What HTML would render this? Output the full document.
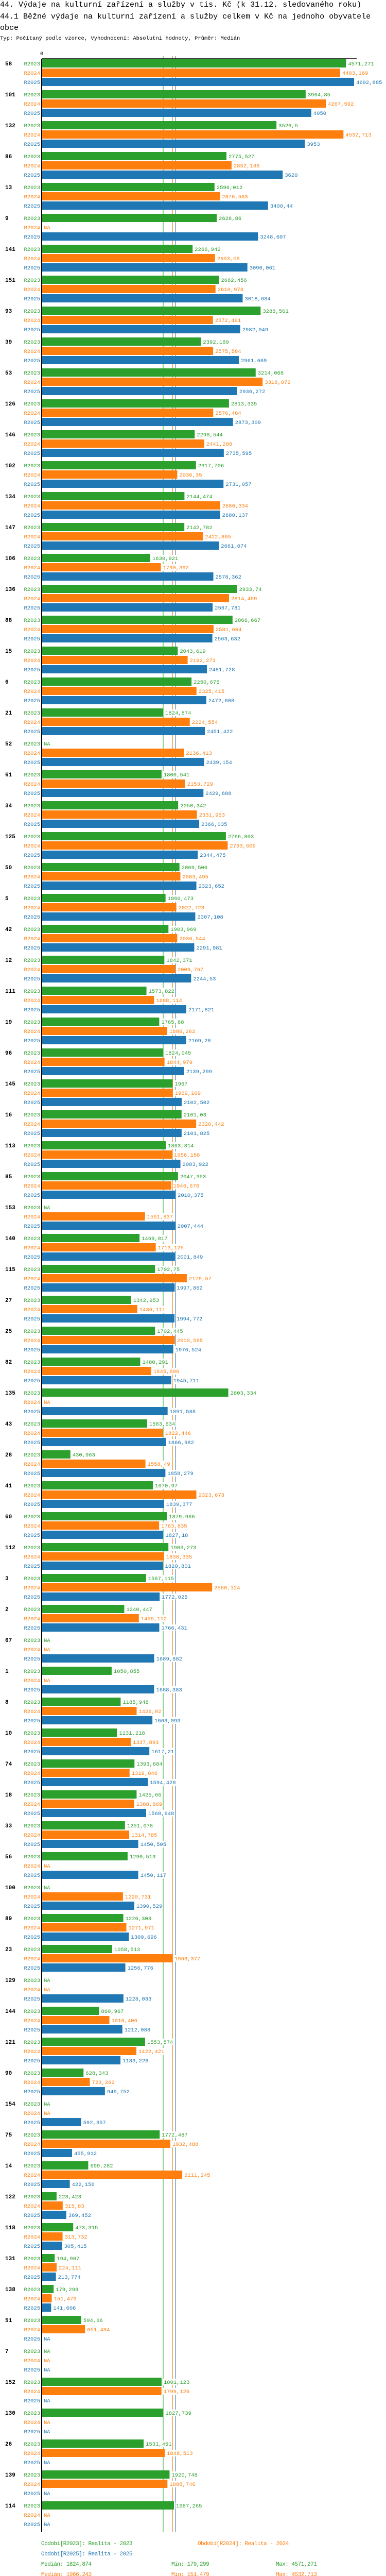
<!DOCTYPE html>
<html><head><meta charset="utf-8"><style>
html,body{margin:0;padding:0;background:#fff;width:750px;height:5034px;overflow:hidden;}
svg{display:block;font-family:"Liberation Mono",monospace;}
</style></head><body>
<svg id="chart" width="750" height="5034" viewBox="0 0 750 5034" xmlns="http://www.w3.org/2000/svg">
<text x="0" y="13" font-size="15">44. Výdaje na kulturní zařízení a služby v tis. Kč (k 31.12. sledovaného roku)</text>
<text x="0" y="36" font-size="15">44.1 Běžné výdaje na kulturní zařízení a služby celkem v Kč na jednoho obyvatele</text>
<text x="0" y="58" font-size="15">obce</text>
<text x="0" y="77" font-size="10.5">Typ: Počítaný podle vzorce, Vyhodnocení: Absolutní hodnoty, Průměr: Medián</text>
<g id="plot"></g>
</svg>
<script>
const categories = ["58","101","132","86","13","9","141","151","93","39","53","126","146","102","134","147","106","136","88","15","6","21","52","61","34","125","50","5","42","12","111","19","96","145","16","113","85","153","140","115","27","25","82","135","43","28","41","60","112","3","2","67","1","8","10","74","18","33","56","100","89","23","129","144","121","90","154","75","14","122","118","131","138","51","7","152","130","26","139","114"];
const r2023 = [4571.271,3964.85,3526.5,2775.527,2596.012,2628.86,2266.942,2662.456,3288.561,2392.189,3214.068,2813.335,2298.544,2317.706,2144.474,2142.782,1630.921,2933.74,2866.667,2043.619,2250.675,1824.874,null,1800.541,2050.342,2766.803,2069.506,1860.473,1903.969,1842.371,1573.822,1765.88,1824.045,1967,2101.03,1863.814,2047.353,null,1469.817,1702.75,1342.953,1702.445,1480.291,2803.334,1583.634,430.963,1670.97,1879.966,1903.273,1567.115,1240.447,null,1050.855,1185.948,1131.218,1393.684,1425.66,1251.078,1290.513,null,1226.303,1058.513,null,860.967,1553.574,628.343,null,1772.487,699.282,223.423,473.315,194.907,179.299,594.66,null,1801.123,1827.739,1531.451,1920.748,1987.265];
const r2024 = [4483.169,4267.592,4532.713,2852.166,2676.563,null,2603.08,2610.978,2572.491,2575.584,3318.072,2576.484,2441.288,2036.35,2680.334,2422.865,1790.392,2814.499,2581.604,2192.273,2325.415,2224.554,2136.413,2153.729,2331.953,2793.609,2083.495,2022.723,2036.544,2009.767,1688.114,1886.262,1844.979,1969.109,2320.442,1956.158,1946.676,1551.837,1713.125,2179.57,1436.111,2000.595,1645.606,null,1822.446,1558.49,2323.673,1763.835,1838.335,2560.124,1459.112,null,null,1426.02,1337.893,1319.846,1388.869,1314.785,null,1220.731,1271.971,1963.377,null,1016.406,1422.421,723.262,null,1932.488,2111.245,315.83,313.732,224.111,151.479,651.494,null,1799.126,null,1848.513,1888.746,null];
const r2025 = [4692.885,4050,3953,3620,3400.44,3248.607,3090.061,3018.684,2982.049,2961.669,2936.272,2873.309,2735.595,2731.057,2680.137,2661.074,2578.362,2567.781,2563.632,2481.728,2472.608,2451.422,2439.154,2429.688,2366.035,2344.475,2323.652,2307.108,2291.981,2244.53,2171.821,2169.28,2139.299,2102.502,2101.825,2083.922,2010.375,2007.444,2001.849,1997.862,1994.772,1976.524,1945.711,1891.588,1866.982,1858.279,1839.377,1827.18,1820.801,1772.025,1766.431,1689.882,1688.383,1663.093,1617.21,1594.428,1568.948,1450.505,1450.117,1390.529,1309.696,1256.776,1228.033,1212.088,1183.226,949.752,592.357,455.912,422.156,369.452,305.415,213.774,141.606,null,null,null,null,null,null,null];
const seriesNames = ["R2023","R2024","R2025"];
const medians = [1824.874,1966.243,2010.375];
const mins = [179.299,151.479,141.606];
const maxs = [4571.271,4532.713,4692.885];

const colors = ["#2ca02c","#ff7f0e","#1f77b4"];
const NS = "http://www.w3.org/2000/svg";
const plot = document.getElementById("plot");
const X0 = 81, PX = 0.12935, TOP = 114;
const xScale = v => X0 + v * PX;
const groupY = i => TOP + 1 + i * 60;
const fmt = v => String(v).replace(".", ",");
function mk(tag, attrs, parent) {
  const e = document.createElementNS(NS, tag);
  for (const k in attrs) e.setAttribute(k, attrs[k]);
  (parent || plot).appendChild(e);
  return e;
}
const bottom = groupY(categories.length) - 1;
const series = [r2023, r2024, r2025];

medians.forEach((m, s) => {
  const l = mk("line", {x1: xScale(m), x2: xScale(m), y1: 109, y2: bottom, stroke: colors[s], "stroke-width": 1});
  
  
});

categories.forEach((cat, i) => {
  const gy = groupY(i);
  const gl = mk("text", {x: 10, y: gy + 12, "font-size": 11, "font-weight": "bold", fill: "#000"});
  gl.textContent = cat;
  
  
  series.forEach((arr, s) => {
    const y = gy + s * 18;
    const v = arr[i];
    const sl = mk("text", {x: 78, y: y + 12, "font-size": 10.5, fill: colors[s], "text-anchor": "end"});
    sl.textContent = seriesNames[s];
    
    
    let tx = 85, txt = "NA";
    if (v !== null) {
      const r = mk("rect", {x: X0, y: y, width: v * PX, height: 16, fill: colors[s]});
      
      
      tx = xScale(v) + 4; txt = fmt(v);
    }
    const bg = mk("rect", {x: tx - 1, y: y + 2, width: txt.length * 6.3 + 2, height: 13, fill: "#fff"});
    
    
    const vl = mk("text", {x: tx, y: y + 12, "font-size": 10.5, fill: colors[s]});
    vl.textContent = txt;
    
    
  });
});

const ya = mk("line", {x1: X0, x2: X0, y1: TOP, y2: bottom, stroke: "#000", "stroke-width": 2});


const xa = mk("line", {x1: X0, x2: 693, y1: TOP, y2: TOP, stroke: "#000", "stroke-width": 1.5});


const z = mk("text", {x: X0, y: 107, "font-size": 10, "text-anchor": "middle"});
z.textContent = "0";



const legendText = ["Období[R2023]: Realita - 2023","Období[R2024]: Realita - 2024","Období[R2025]: Realita - 2025"];
const legendPos = [[80,4940],[384,4940],[80,4960]];
legendText.forEach((t, s) => {
  const e = mk("text", {x: legendPos[s][0], y: legendPos[s][1], "font-size": 11, "letter-spacing": "-0.5", fill: colors[s]});
  e.textContent = t;
  
  
});
series.forEach((_, s) => {
  const y = 4980 + s * 20;
  const a = mk("text", {x: 80, y: y, "font-size": 11, "letter-spacing": "-0.5", fill: colors[s]});
  a.textContent = "Medián: " + fmt(medians[s]);
  
  
  const b = mk("text", {x: 333, y: y, "font-size": 11, "letter-spacing": "-0.5", fill: colors[s]});
  b.textContent = "Min: " + fmt(mins[s]);
  
  
  const c = mk("text", {x: 536, y: y, "font-size": 11, "letter-spacing": "-0.5", fill: colors[s]});
  c.textContent = "Max: " + fmt(maxs[s]);
  
  
});
</script>
</body></html>
